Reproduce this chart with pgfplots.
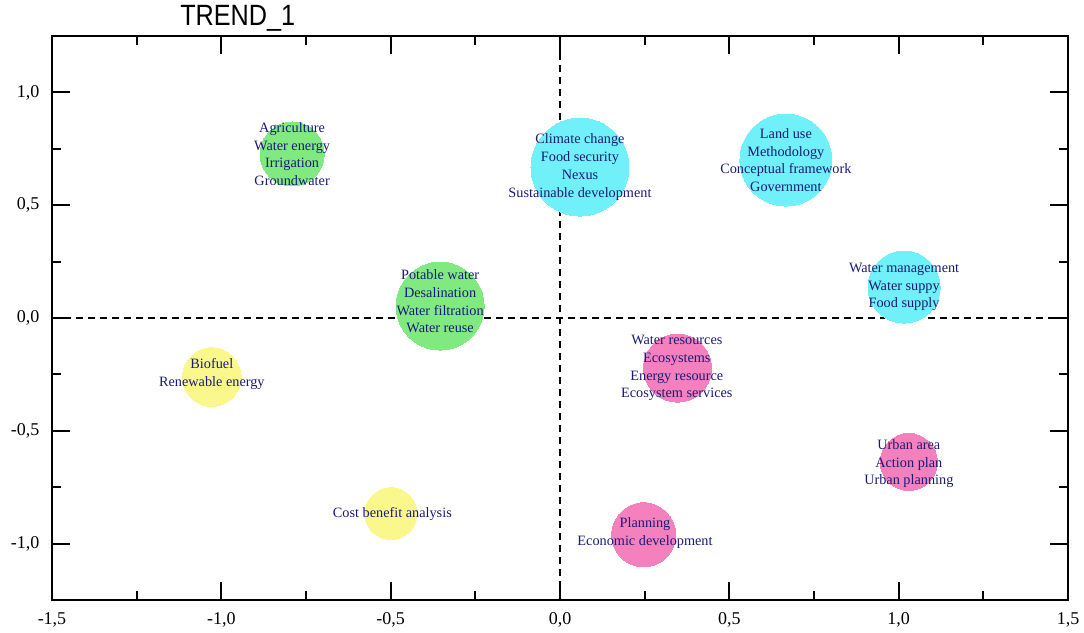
\documentclass[border=0pt]{standalone}
\usepackage{fontspec}
\setmainfont{Liberation Serif}
\newfontfamily\titlefont[FakeStretch=0.86]{Liberation Sans}
\usepackage{pgfplots}
\pgfplotsset{compat=1.18}
\definecolor{cyanB}{RGB}{112,240,248}
\definecolor{greenB}{RGB}{128,234,128}
\definecolor{pinkB}{RGB}{245,128,190}
\definecolor{yellowB}{RGB}{250,248,140}
\definecolor{navyT}{RGB}{26,26,120}
\pgfplotsset{
  bub/.style n args={2}{only marks, mark=*, mark size=#2, color=#1, mark options={fill=#1, draw=#1, line width=0pt}, forget plot},
  lbl/.style={only marks, mark=none, forget plot, nodes near coords={#1}, nodes near coords align={center},
    every node near coord/.append style={align=center, anchor=center, text=navyT, inner sep=0pt,
      font=\fontsize{10.7}{13.3}\selectfont}},
}
\begin{document}
\begin{tikzpicture}
\useasboundingbox (-39pt,-24pt) rectangle (774pt,450pt);
\begin{axis}[
  at={(0,0)}, anchor=south west,
  scale only axis, width=762pt, height=423pt,
  xmin=-1.5, xmax=1.5, ymin=-1.25, ymax=1.25,
  xtick={-1.5,-1,-0.5,0,0.5,1,1.5},
  ytick={-1,-0.5,0,0.5,1},
  minor tick num=1,
  tick align=inside,
  major tick length=13.5pt, minor tick length=7pt,
  axis line style={line width=1.5pt},
  every tick/.style={line width=1.5pt, black},
  tick label style={font=\fontsize{13.5}{16}\selectfont},
  xticklabel style={yshift=-6pt},
  yticklabel style={xshift=-6pt},
  /pgf/number format/use comma,
  /pgf/number format/fixed,
  /pgf/number format/fixed zerofill,
  /pgf/number format/precision=1,
  /pgf/number format/assume math mode=true,
  title={TREND\_1},
  title style={at={(axis description cs:0.126,1.0195)}, anchor=base west, inner sep=0pt, yshift=-6pt,
    font=\titlefont\fontsize{22}{26}\selectfont},
  clip=false,
]
% bubbles
\addplot[bub={greenB}{24pt}] coordinates {(-0.791,0.727)};
\addplot[bub={cyanB}{36.75pt}] coordinates {(0.059,0.669)};
\addplot[bub={cyanB}{34.5pt}] coordinates {(0.667,0.700)};
\addplot[bub={cyanB}{27pt}] coordinates {(1.016,0.137)};
\addplot[bub={greenB}{33pt}] coordinates {(-0.354,0.053)};
\addplot[bub={yellowB}{22pt}] coordinates {(-1.028,-0.262)};
\addplot[bub={pinkB}{25.5pt}] coordinates {(0.347,-0.222)};
\addplot[bub={pinkB}{21.4pt}] coordinates {(1.030,-0.638)};
\addplot[bub={yellowB}{19.5pt}] coordinates {(-0.499,-0.867)};
\addplot[bub={pinkB}{24pt}] coordinates {(0.247,-0.961)};
% dashed zero lines
\addplot[black, line width=1pt, dash pattern=on 5.5pt off 3.5pt, forget plot] coordinates {(0,-1.25) (0,1.25)};
\addplot[black, line width=1pt, dash pattern=on 5.5pt off 3.5pt, forget plot] coordinates {(-1.5,0) (1.5,0)};
% labels
\addplot[lbl={Agriculture\\Water energy\\Irrigation\\Groundwater}] coordinates {(-0.791,0.727)};
\addplot[lbl={Climate change\\Food security\\Nexus\\Sustainable development}] coordinates {(0.059,0.669)};
\addplot[lbl={Land use\\Methodology\\Conceptual framework\\Government}] coordinates {(0.667,0.700)};
\addplot[lbl={Water management\\Water suppy\\Food supply}] coordinates {(1.016,0.137)};
\addplot[lbl={Potable water\\Desalination\\Water filtration\\Water reuse}] coordinates {(-0.354,0.073)};
\addplot[lbl={Biofuel\\Renewable energy}] coordinates {(-1.028,-0.247)};
\addplot[lbl={Water resources\\Ecosystems\\Energy resource\\Ecosystem services}] coordinates {(0.345,-0.222)};
\addplot[lbl={Urban area\\Action plan\\Urban planning}] coordinates {(1.030,-0.646)};
\addplot[lbl={Cost benefit analysis}] coordinates {(-0.495,-0.867)};
\addplot[lbl={Planning\\Economic development}] coordinates {(0.251,-0.953)};
\end{axis}
\end{tikzpicture}
\end{document}
